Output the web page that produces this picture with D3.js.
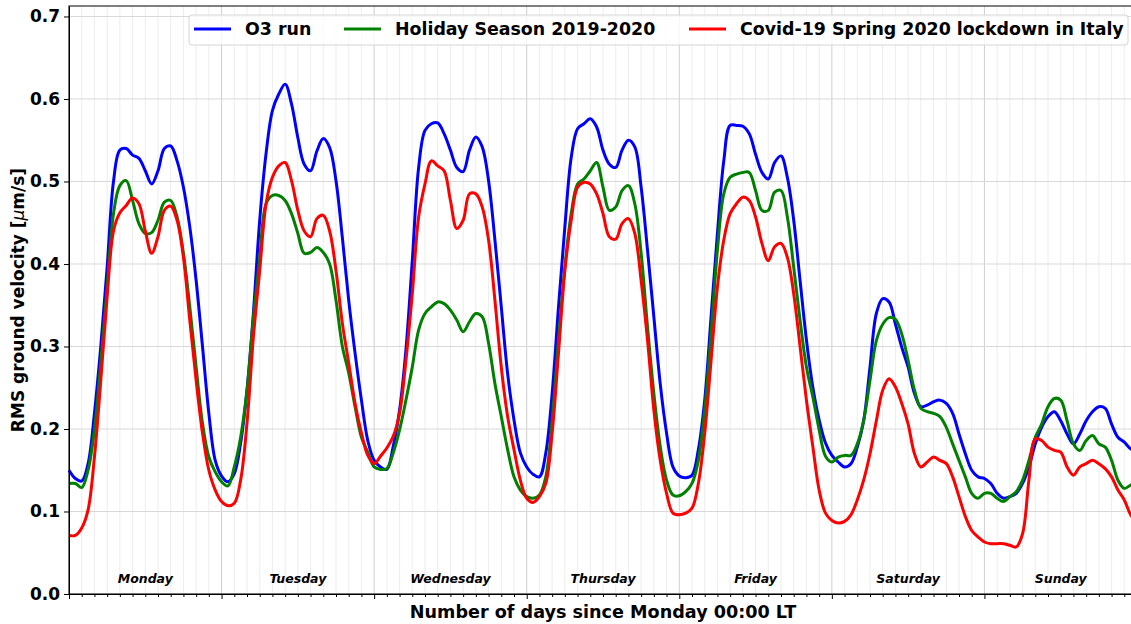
<!DOCTYPE html>
<html>
<head>
<meta charset="utf-8">
<script src="https://cdn.jsdelivr.net/npm/d3@7"></script>
<style>
  body { margin: 0; background: #fff; }
  svg { display: block; font-family: "DejaVu Sans", sans-serif; }
</style>
</head>
<body>
<div class="chart"></div>
<script>
// hourly RMS values (µm/s), hour 0 = Monday 00:00 LT
const o3Run = [
  0.150, 0.140, 0.137, 0.158, 0.219, 0.300, 0.396, 0.500, 0.538, 0.540, 0.532, 0.528,
  0.513, 0.497, 0.513, 0.540, 0.543, 0.525, 0.493, 0.445, 0.380, 0.300, 0.219, 0.162,
  0.143, 0.136, 0.146, 0.183, 0.247, 0.340, 0.453, 0.534, 0.586, 0.606, 0.618, 0.594,
  0.553, 0.521, 0.513, 0.537, 0.552, 0.541, 0.501, 0.432, 0.356, 0.292, 0.235, 0.186,
  0.162, 0.154, 0.151, 0.179, 0.223, 0.296, 0.404, 0.517, 0.562, 0.570, 0.571, 0.558,
  0.538, 0.517, 0.512, 0.538, 0.554, 0.542, 0.501, 0.429, 0.348, 0.267, 0.211, 0.171,
  0.154, 0.145, 0.142, 0.171, 0.243, 0.348, 0.445, 0.529, 0.564, 0.570, 0.576, 0.566,
  0.538, 0.521, 0.517, 0.538, 0.550, 0.542, 0.493, 0.417, 0.336, 0.255, 0.195, 0.154,
  0.143, 0.141, 0.144, 0.175, 0.235, 0.336, 0.437, 0.525, 0.568, 0.568, 0.567, 0.558,
  0.533, 0.511, 0.503, 0.523, 0.531, 0.505, 0.453, 0.380, 0.308, 0.251, 0.211, 0.183,
  0.168, 0.160, 0.154, 0.158, 0.178, 0.210, 0.275, 0.340, 0.358, 0.354, 0.327, 0.299,
  0.275, 0.243, 0.227, 0.229, 0.233, 0.235, 0.231, 0.219, 0.194, 0.170, 0.150, 0.142,
  0.140, 0.134, 0.122, 0.116, 0.118, 0.122, 0.134, 0.154, 0.182, 0.202, 0.215, 0.221,
  0.210, 0.194, 0.182, 0.194, 0.210, 0.221, 0.227, 0.225, 0.206, 0.190, 0.184, 0.176,
  0.172
];

const holidaySeason = [
  0.134, 0.134, 0.129, 0.150, 0.199, 0.280, 0.372, 0.461, 0.495, 0.501, 0.477, 0.449,
  0.437, 0.438, 0.453, 0.475, 0.477, 0.457, 0.413, 0.348, 0.275, 0.207, 0.166, 0.148,
  0.136, 0.131, 0.154, 0.190, 0.247, 0.335, 0.408, 0.473, 0.483, 0.483, 0.477, 0.461,
  0.437, 0.413, 0.414, 0.420, 0.414, 0.400, 0.356, 0.300, 0.268, 0.227, 0.190, 0.172,
  0.154, 0.151, 0.152, 0.171, 0.199, 0.235, 0.275, 0.320, 0.340, 0.348, 0.354, 0.352,
  0.344, 0.332, 0.318, 0.330, 0.340, 0.336, 0.304, 0.255, 0.215, 0.175, 0.142, 0.126,
  0.118, 0.116, 0.120, 0.142, 0.211, 0.308, 0.396, 0.461, 0.497, 0.503, 0.513, 0.523,
  0.493, 0.465, 0.469, 0.489, 0.495, 0.473, 0.413, 0.324, 0.243, 0.179, 0.138, 0.120,
  0.119, 0.124, 0.134, 0.162, 0.223, 0.315, 0.417, 0.485, 0.505, 0.509, 0.511, 0.511,
  0.489, 0.465, 0.465, 0.487, 0.489, 0.457, 0.396, 0.332, 0.275, 0.239, 0.199, 0.167,
  0.160, 0.166, 0.168, 0.168, 0.182, 0.210, 0.259, 0.307, 0.327, 0.335, 0.333, 0.315,
  0.283, 0.247, 0.225, 0.221, 0.219, 0.215, 0.202, 0.182, 0.162, 0.142, 0.122, 0.116,
  0.122, 0.122, 0.116, 0.112, 0.118, 0.124, 0.138, 0.162, 0.190, 0.206, 0.227, 0.237,
  0.235, 0.210, 0.182, 0.174, 0.186, 0.192, 0.182, 0.178, 0.162, 0.138, 0.128, 0.132,
  0.135
];

const covidLockdown = [
  0.071, 0.071, 0.080, 0.102, 0.166, 0.259, 0.360, 0.440, 0.462, 0.471, 0.480, 0.473,
  0.440, 0.413, 0.433, 0.465, 0.470, 0.453, 0.408, 0.332, 0.259, 0.195, 0.150, 0.126,
  0.112, 0.107, 0.110, 0.138, 0.207, 0.311, 0.392, 0.473, 0.505, 0.519, 0.523, 0.501,
  0.465, 0.440, 0.433, 0.455, 0.459, 0.440, 0.392, 0.328, 0.280, 0.231, 0.195, 0.168,
  0.158, 0.167, 0.177, 0.191, 0.219, 0.283, 0.364, 0.457, 0.497, 0.525, 0.519, 0.513,
  0.477, 0.443, 0.453, 0.485, 0.485, 0.469, 0.429, 0.356, 0.275, 0.215, 0.175, 0.138,
  0.116, 0.111, 0.118, 0.134, 0.195, 0.292, 0.392, 0.453, 0.493, 0.499, 0.497, 0.485,
  0.461, 0.433, 0.430, 0.449, 0.455, 0.437, 0.380, 0.308, 0.223, 0.162, 0.122, 0.098,
  0.096, 0.098, 0.104, 0.134, 0.195, 0.283, 0.372, 0.429, 0.461, 0.473, 0.481, 0.477,
  0.457, 0.425, 0.404, 0.421, 0.425, 0.408, 0.364, 0.300, 0.235, 0.179, 0.126, 0.098,
  0.089, 0.086, 0.088, 0.096, 0.114, 0.138, 0.170, 0.210, 0.247, 0.261, 0.251, 0.231,
  0.206, 0.170, 0.154, 0.160, 0.166, 0.162, 0.158, 0.142, 0.118, 0.094, 0.077, 0.069,
  0.063, 0.061, 0.061, 0.061, 0.059, 0.057, 0.073, 0.138, 0.188, 0.186, 0.178, 0.174,
  0.172, 0.154, 0.144, 0.154, 0.158, 0.162, 0.158, 0.152, 0.142, 0.126, 0.114, 0.096,
  0.086
];

const dayNames = ["Monday", "Tuesday", "Wednesday", "Thursday", "Friday", "Saturday", "Sunday"];
const yTicks = [0.0, 0.1, 0.2, 0.3, 0.4, 0.5, 0.6, 0.7];

const seriesList = [
  { name: "O3 run", values: o3Run, color: "#0000ff" },
  { name: "Holiday Season 2019-2020", values: holidaySeason, color: "#008000" },
  { name: "Covid-19 Spring 2020 lockdown in Italy", values: covidLockdown, color: "#ff0000" }
];

const svgWidth = 1131;
const svgHeight = 624;

const margin = { top: 6, right: 0, bottom: 30, left: 69 };

// plot runs a little past the right edge of the picture
const width = 1068;
const height = svgHeight - margin.top - margin.bottom;

const svg = d3.select(".chart")
  .append("svg")
  .attr("width", svgWidth)
  .attr("height", svgHeight);

const chartGroup = svg.append("g")
  .attr("transform", `translate(${margin.left}, ${margin.top})`);

const xScale = d3.scaleLinear().domain([0, 7]).range([0, width]);
const yScale = d3.scaleLinear().domain([0, 0.7127]).range([height, 0]);

const majorDays = d3.range(0, 8);
const minorSteps = d3.range(0, 7 * 12 + 1).map(i => i / 12).filter(d => Math.abs(d - Math.round(d)) > 1e-6);

// grid
chartGroup.append("g")
  .selectAll("line")
  .data(minorSteps)
  .enter()
  .append("line")
  .attr("x1", d => xScale(d))
  .attr("x2", d => xScale(d))
  .attr("y1", 0)
  .attr("y2", height)
  .attr("stroke", "#ebebeb")
  .attr("stroke-width", 0.9);

chartGroup.append("g")
  .selectAll("line")
  .data(majorDays)
  .enter()
  .append("line")
  .attr("x1", d => xScale(d))
  .attr("x2", d => xScale(d))
  .attr("y1", 0)
  .attr("y2", height)
  .attr("stroke", "#cfcfcf")
  .attr("stroke-width", 1);

chartGroup.append("g")
  .selectAll("line")
  .data(yTicks)
  .enter()
  .append("line")
  .attr("x1", 0)
  .attr("x2", width)
  .attr("y1", d => yScale(d))
  .attr("y2", d => yScale(d))
  .attr("stroke", "#d8d8d8")
  .attr("stroke-width", 1);

// day names inside the plot
chartGroup.append("g")
  .selectAll("text")
  .data(dayNames)
  .enter()
  .append("text")
  .attr("x", (d, i) => xScale(i + 0.5))
  .attr("y", height - 11.5)
  .attr("text-anchor", "middle")
  .attr("font-size", "12.5px")
  .attr("font-weight", "bold")
  .attr("font-style", "italic")
  .text(d => d);

// curves
const line = d3.line()
  .x((d, i) => xScale(i / 24))
  .y(d => yScale(d))
  .curve(d3.curveCatmullRom.alpha(0.5));

chartGroup.append("g")
  .selectAll("path")
  .data(seriesList)
  .enter()
  .append("path")
  .attr("d", d => line(d.values))
  .attr("fill", "none")
  .attr("stroke", d => d.color)
  .attr("stroke-width", 3)
  .attr("stroke-linejoin", "round");

// axes
const bottomMajor = d3.axisBottom(xScale).tickValues(majorDays).tickFormat("").tickSizeInner(5).tickSizeOuter(0);
const bottomMinor = d3.axisBottom(xScale).tickValues(minorSteps).tickFormat("").tickSizeInner(3).tickSizeOuter(0);

const xAxisMajor = chartGroup.append("g")
  .attr("transform", `translate(0, ${height})`)
  .call(bottomMajor);
const xAxisMinor = chartGroup.append("g")
  .attr("transform", `translate(0, ${height})`)
  .call(bottomMinor);
xAxisMinor.select(".domain").remove();

const leftAxis = d3.axisLeft(yScale)
  .tickValues(yTicks)
  .tickFormat(d3.format(".1f"))
  .tickSizeInner(5)
  .tickSizeOuter(0)
  .tickPadding(4);

const yAxis = chartGroup.append("g").call(leftAxis);
yAxis.selectAll("text")
  .attr("font-size", "17px")
  .attr("font-weight", "bold")
  .attr("font-family", "DejaVu Sans")
  .attr("fill", "#000");

svg.selectAll(".tick line, .domain").attr("stroke", "#000").attr("stroke-width", 1);

// frame (top spine; right spine falls outside the picture)
chartGroup.append("rect")
  .attr("x", 0)
  .attr("y", 0)
  .attr("width", width)
  .attr("height", height)
  .attr("fill", "none")
  .attr("stroke", "#000")
  .attr("stroke-width", 1);

// axis labels
svg.append("text")
  .attr("x", margin.left + width / 2)
  .attr("y", 618)
  .attr("text-anchor", "middle")
  .attr("font-size", "17.6px")
  .attr("font-weight", "bold")
  .text("Number of days since Monday 00:00 LT");

const yLabel = svg.append("text")
  .attr("transform", `translate(24, ${margin.top + height / 2}) rotate(-90)`)
  .attr("text-anchor", "middle")
  .attr("font-size", "17px")
  .attr("font-weight", "bold");
yLabel.append("tspan").text("RMS ground velocity [");
yLabel.append("tspan").attr("font-style", "italic").attr("font-weight", "normal").text("μ");
yLabel.append("tspan").text("m/s]");

// legend
const legend = svg.append("g");
legend.append("rect")
  .attr("x", 189)
  .attr("y", 15)
  .attr("width", 939)
  .attr("height", 30)
  .attr("rx", 3)
  .attr("fill", "#fff")
  .attr("fill-opacity", 0.8)
  .attr("stroke", "#d6d6d6")
  .attr("stroke-width", 1);

const legendX = [194, 344, 689];
const legendItems = legend.selectAll(".item")
  .data(seriesList)
  .enter()
  .append("g")
  .attr("class", "item")
  .attr("transform", (d, i) => `translate(${legendX[i]}, 29)`);

legendItems.append("line")
  .attr("x1", 0)
  .attr("x2", 37)
  .attr("y1", 0)
  .attr("y2", 0)
  .attr("stroke", d => d.color)
  .attr("stroke-width", 3);

legendItems.append("text")
  .attr("x", 51)
  .attr("y", 6)
  .attr("font-size", "17.4px")
  .attr("font-weight", "bold")
  .text(d => d.name);
</script>
</body>
</html>
